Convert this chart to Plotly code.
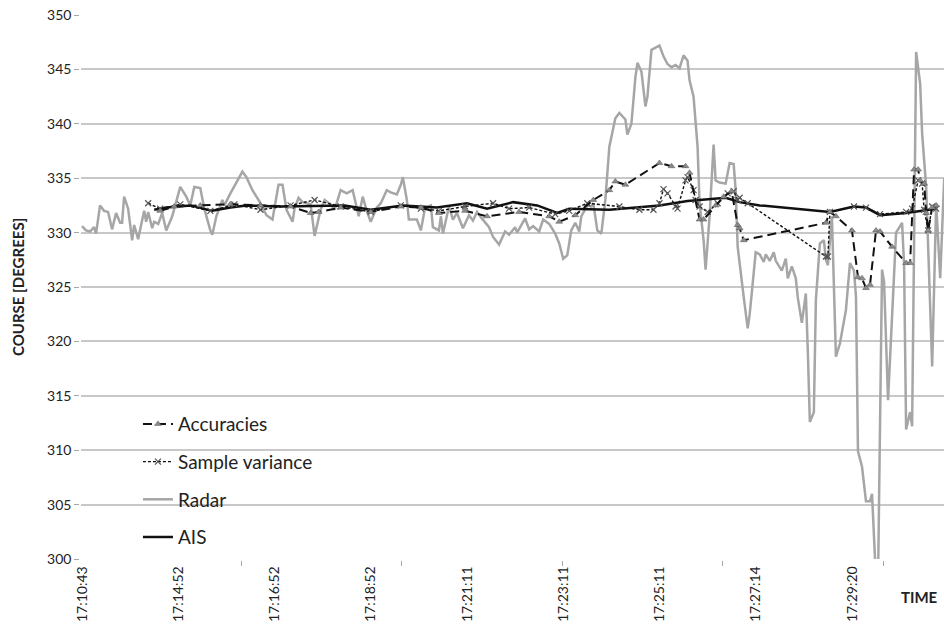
import plotly.graph_objects as go

# Category axis: each category index is one radar sample
tick_labels = ["17:10:43", "17:14:52", "17:16:52", "17:18:52", "17:21:11",
               "17:23:11", "17:25:11", "17:27:14", "17:29:20"]
tick_label_pos = [0, 48, 96, 144, 192, 240, 288, 336, 384]
tick_mark_pos = [79.5, 159.5, 239.5, 319.5, 399.5]

radar_idx = [0, 2, 4, 6, 7, 9, 11, 13, 15, 17, 19, 20, 21, 23, 25, 26, 28, 31, 32, 33,
             35, 36, 38, 40, 42, 45, 49, 52, 54, 56, 59, 61, 64, 65, 67, 70, 71, 74, 80, 82,
             85, 89, 92, 95, 98, 100, 102, 105, 106, 108, 110, 114, 116, 119, 121, 124, 126, 129, 132, 135,
             138, 140, 142, 144, 147, 149, 152, 154, 157, 159, 160, 162, 163, 167, 169, 171, 174, 175, 178, 179,
             180, 183, 185, 187, 190, 193, 195, 197, 199, 203, 205, 208, 211, 213, 216, 217, 221, 223, 225, 228,
             230, 233, 236, 238, 240, 242, 244, 246, 248, 249, 252, 254, 255, 257, 259, 261, 263, 266, 268, 271,
             272, 274, 276, 277, 279, 281, 282, 284, 287, 288, 290, 292, 294, 296, 298, 300, 302, 303, 305, 307,
             308, 310, 311, 313, 315, 316, 318, 321, 323, 325, 326, 327, 330, 332, 333, 335, 336, 338, 340, 341,
             343, 345, 346, 349, 351, 352, 354, 356, 357, 359, 361, 362, 363, 365, 366, 368, 370, 371, 372, 374,
             376, 378, 381, 383, 385, 386, 387, 389, 391, 393, 394, 396, 397, 399, 400, 402, 404, 406, 409, 410,
             411, 413, 414, 416, 418, 419, 421, 422, 424, 426, 428, 430]
radar_val = [330.6, 330.2, 330.1, 330.5, 329.9, 332.5, 332.0, 331.9, 330.3, 331.8, 330.9, 330.9, 333.3, 332.2, 329.3, 330.7, 329.4, 332.0, 331.0, 331.9,
             330.4, 331.0, 330.8, 331.8, 330.2, 331.5, 334.2, 333.3, 332.5, 334.2, 334.1, 332.2, 330.2, 329.8, 331.5, 333.0, 332.5, 333.6, 335.6, 335.1,
             333.9, 332.7, 331.6, 331.2, 334.4, 334.4, 332.1, 331.0, 332.2, 333.2, 332.8, 332.6, 329.7, 332.1, 333.0, 332.6, 332.1, 333.9, 333.6, 333.9,
             331.5, 333.3, 332.0, 331.0, 332.3, 332.7, 333.9, 333.7, 333.5, 334.4, 335.1, 333.0, 331.2, 331.2, 330.2, 332.2, 332.5, 330.5, 330.2, 331.5,
             329.9, 332.4, 331.2, 331.8, 330.4, 331.6, 331.1, 331.9, 331.4, 330.5, 329.6, 328.9, 330.1, 329.8, 330.5, 330.0, 331.3, 330.3, 330.6, 330.1,
             331.2, 330.8, 329.9, 329.0, 327.6, 327.9, 330.2, 330.9, 330.1, 331.5, 332.5, 332.4, 332.7, 330.2, 329.9, 333.0, 337.9, 340.5, 341.0, 340.4,
             339.0, 340.0, 344.3, 345.6, 344.8, 341.6, 342.5, 346.8, 347.1, 347.2, 346.2, 345.5, 345.2, 345.4, 345.1, 346.3, 345.8, 344.0, 342.5, 337.9,
             332.7, 329.3, 326.6, 331.5, 338.1, 334.8, 334.6, 334.5, 336.4, 336.3, 333.9, 328.7, 324.1, 321.2, 322.5, 326.6, 328.2, 328.0, 327.3, 328.0,
             327.4, 328.2, 327.4, 326.5, 327.6, 325.8, 326.9, 325.8, 324.0, 321.7, 324.4, 319.0, 312.6, 313.5, 323.8, 329.0, 329.3, 327.5, 327.0, 331.5,
             318.6, 319.8, 322.9, 327.2, 326.5, 324.1, 309.9, 308.5, 305.3, 305.3, 306.0, 298.0, 298.0, 326.6, 325.5, 314.6, 322.0, 330.0, 330.9, 327.0,
             311.9, 313.5, 312.2, 346.6, 343.7, 339.1, 334.2, 329.3, 317.7, 332.7, 325.8, 335.0]

ais_idx = [36, 42, 54, 65, 74, 82, 99, 119, 131, 144, 160, 177, 192, 202, 215, 227, 237, 243, 263, 288,
           302, 321, 328, 338, 373, 385, 391, 398, 411, 426]
ais_val = [332.1, 332.3, 332.5, 332.0, 332.3, 332.5, 332.4, 332.5, 332.5, 332.1, 332.5, 332.3, 332.7, 332.2, 332.8, 332.5, 331.8, 332.2, 332.1, 332.5,
           332.9, 333.2, 332.8, 332.5, 331.9, 332.4, 332.3, 331.6, 331.8, 332.2]

acc_idx = [39, 46, 59, 74, 89, 104, 114, 118, 129, 144, 159, 169, 178, 191, 202, 218, 233, 238, 246, 255,
           263, 266, 271, 288, 294, 301, 303, 308, 310, 316, 320, 324, 327, 328, 330, 371, 373, 376, 384, 387,
           389, 391, 393, 396, 398, 404, 411, 413, 415, 417, 418, 420, 421, 422, 424, 426]
acc_val = [332.0, 332.4, 332.5, 332.6, 332.5, 332.4, 331.8, 331.9, 332.3, 331.9, 332.4, 332.3, 331.8, 332.0, 331.5, 331.9, 331.5, 331.0, 331.6, 333.0,
           333.9, 334.7, 334.4, 336.4, 336.1, 336.1, 335.5, 331.2, 331.2, 332.5, 333.3, 333.8, 330.7, 330.4, 329.3, 330.9, 331.9, 331.5, 330.2, 325.9,
           325.8, 324.9, 325.2, 330.2, 330.1, 328.7, 327.2, 327.2, 335.8, 335.8, 334.8, 334.5, 331.8, 330.2, 332.3, 332.5]

sv_idx = [33, 39, 49, 64, 76, 89, 104, 116, 129, 144, 159, 169, 178, 191, 205, 213, 223, 236, 243, 252,
          268, 278, 285, 288, 290, 292, 296, 297, 301, 302, 305, 306, 308, 312, 317, 322, 325, 327, 328, 332,
          371, 372, 373, 385, 391, 398, 411, 414, 417, 419, 420, 422, 424, 426]
sv_val = [332.7, 332.2, 332.6, 332.0, 332.6, 332.1, 332.5, 333.0, 332.4, 331.9, 332.5, 332.2, 332.0, 332.4, 332.7, 332.2, 332.3, 331.7, 332.0, 332.7,
          332.4, 332.1, 332.1, 332.7, 334.0, 333.6, 332.4, 332.2, 334.8, 335.1, 333.9, 333.0, 332.4, 331.9, 332.7, 333.6, 333.8, 333.0, 333.2, 332.7,
          327.8, 327.8, 331.9, 332.4, 332.3, 331.7, 331.9, 332.2, 334.8, 334.5, 332.1, 330.2, 332.4, 332.2]

FONT = "Lato"
fig = go.Figure()

fig.add_trace(go.Scatter(
    x=acc_idx, y=acc_val, name="Accuracies", mode="lines+markers", zorder=3,
    legendgroup="a",
    line=dict(color="#111111", width=2, dash="9px,5px"),
    marker=dict(symbol="triangle-up", size=6, color="#8c8c8c", line=dict(color="#555555", width=0.5))))
fig.add_trace(go.Scatter(
    x=sv_idx, y=sv_val, name="Sample variance", mode="lines+markers", zorder=2,
    legendgroup="b",
    line=dict(color="#111111", width=1.4, dash="3px,2px"),
    marker=dict(symbol="x-thin", size=6, color="#555555", line=dict(color="#555555", width=1.2))))
fig.add_trace(go.Scatter(
    x=radar_idx, y=radar_val, name="Radar", mode="lines", zorder=0,
    legendgroup="c",
    line=dict(color="#a6a6a6", width=2.5)))
fig.add_trace(go.Scatter(
    x=ais_idx, y=ais_val, name="AIS", mode="lines", zorder=1,
    legendgroup="d",
    line=dict(color="#111111", width=2.5)))

fig.update_layout(
    width=944, height=625,
    margin=dict(l=81, r=0, t=15, b=66),
    paper_bgcolor="white", plot_bgcolor="white",
    font=dict(family=FONT, size=13, color="#222222"),
    showlegend=True,
    legend=dict(x=0.066, y=0.283, xanchor="left", yanchor="top",
                bgcolor="rgba(0,0,0,0)", font=dict(family=FONT, size=19, color="#222222"),
                traceorder="grouped", tracegroupgap=10),
    xaxis=dict(range=[-0.5, 429.9], tickmode="array", tickvals=tick_label_pos, ticktext=tick_labels,
               tickangle=-90, ticks="outside", ticklen=0, showgrid=False, zeroline=False,
               showline=True, linecolor="#a6a6a6", linewidth=1.5,
               tickfont=dict(family=FONT, size=14, color="#222222"),
               minor=dict(tickmode="array", tickvals=tick_mark_pos, ticks="outside", ticklen=5,
                          tickcolor="#a6a6a6", tickwidth=1, showgrid=False)),
    yaxis=dict(range=[300, 350], dtick=5, tick0=300, showgrid=True, gridcolor="#c8c8c8", gridwidth=1.5,
               zeroline=False, showline=True, linecolor="#a6a6a6", linewidth=1.5,
               ticks="outside", ticklen=5, tickcolor="#a6a6a6",
               tickfont=dict(family=FONT, size=14, color="#222222")),
    annotations=[
        dict(text="<b>COURSE [DEGREES]</b>", xref="paper", yref="paper", x=-0.073, y=0.5,
             textangle=-90, showarrow=False, xanchor="center", yanchor="middle",
             font=dict(family=FONT, size=15, color="#222222")),
        dict(text="<b>TIME</b>", xref="paper", yref="paper", x=0.972, y=-0.07,
             showarrow=False, xanchor="center", yanchor="middle",
             font=dict(family=FONT, size=15, color="#222222")),
    ],
)

# remove the browser's default 8px body margin so the figure sits at the page origin
fig.write_html("out.html", config={"displayModeBar": False},
               post_script="document.body.style.margin='0';document.body.style.overflow='hidden';")
